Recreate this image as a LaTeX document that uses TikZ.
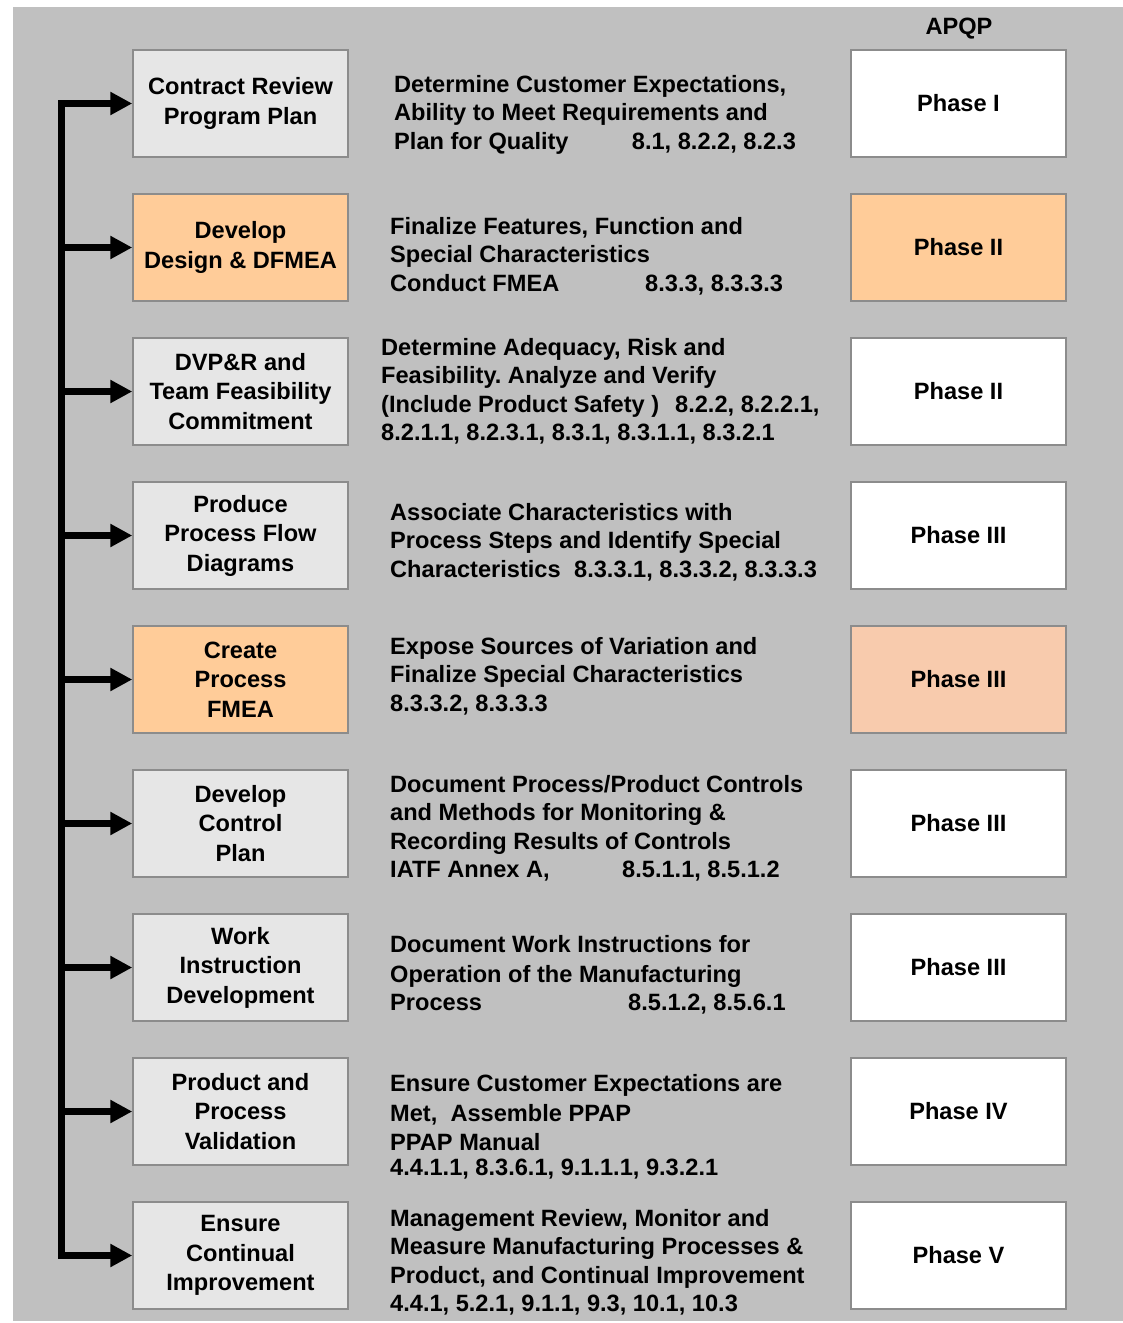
\documentclass[tikz,border=0pt]{standalone}
\usepackage{fontspec}
\setmainfont{Liberation Sans}
\usetikzlibrary{arrows.meta}
\definecolor{panel}{HTML}{C0C0C0}
\definecolor{stepgray}{HTML}{E6E6E6}
\definecolor{steporange}{HTML}{FFCC99}
\definecolor{phaseorange}{HTML}{F8CBAD}
\definecolor{edgegray}{HTML}{8C8C8C}
\frenchspacing
\newcommand\boxfont{\fontsize{23.6pt}{29.5pt}\selectfont\bfseries}
\newcommand\descfont{\fontsize{23.6pt}{28.5pt}\selectfont\bfseries}
\begin{document}
\begin{tikzpicture}[x=1pt,y=-1pt,
  box/.style={draw=edgegray, line width=1.5pt, minimum width=215pt, minimum height=107pt,
              inner sep=0pt, align=center, font=\boxfont},
  stepbox/.style={box, fill=stepgray},
  hotbox/.style={box, fill=steporange},
  phasebox/.style={box, fill=white},
  warmphase/.style={box, fill=phaseorange},
  desc/.style={anchor=north west, inner sep=0pt, align=left, font=\descfont},
  feed/.style={line width=6.5pt, line join=miter, -{Triangle[length=22pt,width=22pt]}},
]
\useasboundingbox (0,0) rectangle (1123,1323);
\fill[panel] (13,7) rectangle (1123,1321);

% column header
\node[font=\descfont, inner sep=0pt] (apqp) at (959,29) {APQP};

% process steps (left column)
\node[stepbox] (s1) at (240.5,103.5)  {Contract Review\\Program Plan};
\node[hotbox]  (s2) at (240.5,247.5)  {Develop\\Design \& DFMEA};
\node[stepbox] (s3) at (240.5,391.5)  {DVP\&R and\\Team Feasibility\\Commitment};
\node[stepbox] (s4) at (240.5,535.5)  {Produce\\Process Flow\\Diagrams};
\node[hotbox]  (s5) at (240.5,679.5)  {Create\\Process\\FMEA};
\node[stepbox] (s6) at (240.5,823.5)  {Develop\\Control\\Plan};
\node[stepbox] (s7) at (240.5,967.5)  {Work\\Instruction\\Development};
\node[stepbox] (s8) at (240.5,1111.5) {Product and\\Process\\Validation};
\node[stepbox] (s9) at (240.5,1255.5) {Ensure\\Continual\\Improvement};

% APQP phases (right column)
\node[phasebox]  (p1) at (958.5,103.5)  {Phase I};
\node[hotbox]    (p2) at (958.5,247.5)  {Phase II};
\node[phasebox]  (p3) at (958.5,391.5)  {Phase II};
\node[phasebox]  (p4) at (958.5,535.5)  {Phase III};
\node[warmphase] (p5) at (958.5,679.5)  {Phase III};
\node[phasebox]  (p6) at (958.5,823.5)  {Phase III};
\node[phasebox]  (p7) at (958.5,967.5)  {Phase III};
\node[phasebox]  (p8) at (958.5,1111.5) {Phase IV};
\node[phasebox]  (p9) at (958.5,1255.5) {Phase V};

% descriptions (middle column)
\node[desc] (d1) at (394,72) {\strut Determine Customer Expectations,\\
  Ability to Meet Requirements and\\
  \makebox[237.7pt][l]{Plan for Quality}8.1, 8.2.2, 8.2.3};
\node[desc] (d2) at (390,214) {\strut Finalize Features, Function and\\
  Special Characteristics\\
  \makebox[255pt][l]{Conduct FMEA}8.3.3, 8.3.3.3};
\node[desc] (d3) at (381,335) {\strut Determine Adequacy, Risk and\\
  Feasibility. Analyze and Verify\\
  \makebox[294pt][l]{(Include Product Safety )}8.2.2, 8.2.2.1,\\
  8.2.1.1, 8.2.3.1, 8.3.1, 8.3.1.1, 8.3.2.1};
\node[desc] (d4) at (390,500) {\strut Associate Characteristics with\\
  Process Steps and Identify Special\\
  \makebox[184pt][l]{Characteristics}8.3.3.1, 8.3.3.2, 8.3.3.3};
\node[desc] (d5) at (390,634) {\strut Expose Sources of Variation and\\
  Finalize Special Characteristics\\
  8.3.3.2, 8.3.3.3};
\node[desc] (d6) at (390,772) {\strut Document Process/Product Controls\\
  and Methods for Monitoring \&\\
  Recording Results of Controls\\
  \makebox[232pt][l]{IATF Annex A,}8.5.1.1, 8.5.1.2};
\node[desc] (d7) at (390,932) {\strut Document Work Instructions for\\[1.5pt]
  Operation of the Manufacturing\\
  \makebox[238pt][l]{Process}8.5.1.2, 8.5.6.1};
\node[desc] (d8) at (390,1071) {\strut Ensure Customer Expectations are\\[2pt]
  Met,\ \ Assemble PPAP\\
  PPAP Manual\\[-3.5pt]
  4.4.1.1, 8.3.6.1, 9.1.1.1, 9.3.2.1};
\node[desc] (d9) at (390,1206) {\strut Management Review, Monitor and\\
  Measure Manufacturing Processes \&\\
  Product, and Continual Improvement\\
  4.4.1, 5.2.1, 9.1.1, 9.3, 10.1, 10.3};

% feed spine with arrows into each step
\coordinate (top) at (61.5,103.5);
\coordinate (bot) at (61.5,1255.5);
\draw[feed, {Triangle[length=22pt,width=22pt]}-{Triangle[length=22pt,width=22pt]}]
  (s1.west) -- (top) -- (bot) -- (s9.west);
\foreach \k in {2,...,8} {
  \draw[feed] (top |- s\k.west) -- (s\k.west);
}
\end{tikzpicture}
\end{document}
